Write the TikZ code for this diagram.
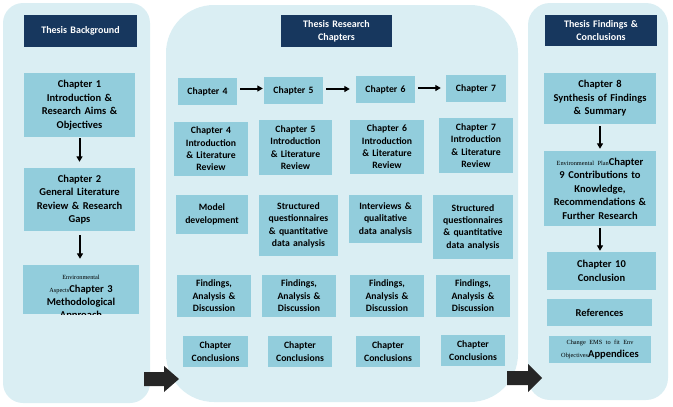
\documentclass[tikz,border=0pt]{standalone}
\usepackage{fontspec}
\setmainfont{Carlito}
\newfontfamily\tmsfont{Liberation Serif}
\usetikzlibrary{arrows.meta}
\definecolor{panelc}{HTML}{DAEEF3}
\definecolor{boxc}{HTML}{92CDDC}
\definecolor{navy}{HTML}{17375E}
\definecolor{blk}{HTML}{262626}
\newcommand\tinyserif[1]{{\tmsfont\mdseries\fontsize{6.3}{7}\selectfont #1}}
\newcommand\bxnode[7][bx]{%
  \pgfmathsetmacro\bxw{#5-#3}\pgfmathsetmacro\bxh{#6-#4}\pgfmathsetmacro\bxt{#5-#3-2}%
  \node[#1, minimum width=\bxw pt, minimum height=\bxh pt, text width=\bxt pt] (#2) at ({(#3+#5)/2},{(#4+#6)/2}) {#7};}
\begin{document}
\begin{tikzpicture}[x=1pt,y=-1pt,
  panel/.style={fill=panelc, draw=none},
  bx/.style={fill=boxc, draw=none, inner sep=0pt, align=center, font=\fontsize{10.5}{13.5}\selectfont\bfseries},
  bxm/.style={bx, font=\fontsize{9.7}{12.4}\selectfont\bfseries},
  hdr/.style={bx, fill=navy, text=white, font=\fontsize{10}{13}\selectfont\bfseries},
  arr/.style={draw=black, line width=2pt, -{Triangle[length=5.5pt,width=6pt]}},
  blockarrow/.style={fill=blk, draw=none}]
\useasboundingbox (0,0) rectangle (673,407);
% panels
\fill[panel, rounded corners=20pt] (3,3) rectangle (150,403);
\fill[panel, rounded corners=48pt] (166,5) rectangle (518,402);
\fill[panel, rounded corners=22pt] (528,3) rectangle (668,400);
% headers
\bxnode[hdr]{hL}{24}{15}{137}{47}{Thesis Background}
\bxnode[hdr]{hM}{281}{15}{392}{47}{Thesis Research\\Chapters}
\bxnode[hdr]{hR}{545}{15}{657}{46}{Thesis Findings \&\\Conclusions}
% left column
\bxnode{c1}{24}{73}{135}{137}{Chapter 1\\Introduction \&\\Research Aims \&\\Objectives}
\bxnode{c2}{24}{168}{135}{231}{Chapter 2\\General Literature\\Review \& Research\\Gaps}
\bxnode{c3}{23}{265}{139}{314}{}
\begin{scope}
\clip (23,265) rectangle (139,314);
\node[anchor=north, inner sep=0pt, text width=114pt, align=center, font=\fontsize{10.5}{13}\selectfont\bfseries] (c3t) at (81,274.5) {\tinyserif{Environmental}\\\tinyserif{Aspects}Chapter 3\\Methodological\\Approach};
\end{scope}
\draw[arr, shorten <=1pt, shorten >=6pt] (c1.south) -- (c2.north);
\draw[arr, shorten <=4pt, shorten >=6pt] ([xshift=0.5pt]c2.south) -- ([xshift=0.5pt]c2.south |- c3.north);
% middle row 1
\bxnode[bxm]{m4}{178}{78}{237}{105}{Chapter 4}
\bxnode[bxm]{m5}{264}{77}{323}{104}{Chapter 5}
\bxnode[bxm]{m6}{356}{76}{415}{103}{Chapter 6}
\bxnode[bxm]{m7}{446}{75}{506}{102}{Chapter 7}
\draw[arr, shorten <=3pt, shorten >=1pt] ([yshift=3pt]m4.east) -- ([yshift=3pt]m4.east -| m5.west);
\draw[arr, shorten <=3pt, shorten >=6pt] ([yshift=1.5pt]m5.east) -- ([yshift=1.5pt]m5.east -| m6.west);
\draw[arr, shorten <=3pt, shorten >=5pt] ([yshift=1.5pt]m6.east) -- ([yshift=1.5pt]m6.east -| m7.west);
% row 2
\bxnode[bxm]{i4}{174}{122}{248}{176}{Chapter 4\\Introduction\\\& Literature\\Review}
\bxnode[bxm]{i5}{259}{120}{332}{175}{Chapter 5\\Introduction\\\& Literature\\Review}
\bxnode[bxm]{i6}{350}{120}{424}{174}{Chapter 6\\Introduction\\\& Literature\\Review}
\bxnode[bxm]{i7}{439}{118}{513}{173}{Chapter 7\\Introduction\\\& Literature\\Review}
% row 3
\bxnode[bxm]{r4}{176}{195}{248}{234}{Model\\development}
\bxnode[bxm]{r5}{259}{195}{338}{256}{Structured\\questionnaires\\\& quantitative\\data analysis}
\bxnode[bxm]{r6}{349}{195}{422}{243}{Interviews \&\\qualitative\\data analysis}
\bxnode[bxm]{r7}{433}{195}{513}{259}{Structured\\questionnaires\\\& quantitative\\data analysis}
% row 4
\bxnode[bxm]{f4}{177}{275}{251}{317}{Findings,\\Analysis \&\\Discussion}
\bxnode[bxm]{f5}{262}{275}{336}{317}{Findings,\\Analysis \&\\Discussion}
\bxnode[bxm]{f6}{350}{275}{424}{317}{Findings,\\Analysis \&\\Discussion}
\bxnode[bxm]{f7}{436}{275}{510}{317}{Findings,\\Analysis \&\\Discussion}
% row 5
\bxnode[bxm]{k4}{183}{336}{248}{367}{Chapter\\Conclusions}
\bxnode[bxm]{k5}{268}{336}{332}{367}{Chapter\\Conclusions}
\bxnode[bxm]{k6}{356}{336}{420}{367}{Chapter\\Conclusions}
\bxnode[bxm]{k7}{441}{335}{505}{366}{Chapter\\Conclusions}
% right column
\bxnode{c8}{544}{73}{656}{124}{Chapter 8\\Synthesis of Findings\\\& Summary}
\bxnode{c9}{544}{151}{656}{226}{\tinyserif{Environmental Plan}Chapter\\9 Contributions to\\Knowledge,\\Recommendations \&\\Further Research}
\bxnode{c10}{547}{252}{656}{290}{Chapter 10\\Conclusion}
\bxnode{refs}{547}{299}{652}{326}{References}
\bxnode{app}{549}{336}{651}{363}{\tinyserif{Change EMS to fit Env}\\\tinyserif{Objectives}Appendices}
\draw[arr, shorten <=2pt, shorten >=2pt] (c8.south) -- (c9.north);
\draw[arr, shorten <=2pt, shorten >=1pt] (c9.south) -- (c9.south |- c10.north);
% block arrows between panels
\fill[blockarrow] (144,372) -- (164,372) -- (164,366) -- (179,379) -- (164,392) -- (164,386) -- (144,386) -- cycle;
\fill[blockarrow] (507,371) -- (528,371) -- (528,364) -- (542,378) -- (528,392) -- (528,385) -- (507,385) -- cycle;
\end{tikzpicture}
\end{document}
